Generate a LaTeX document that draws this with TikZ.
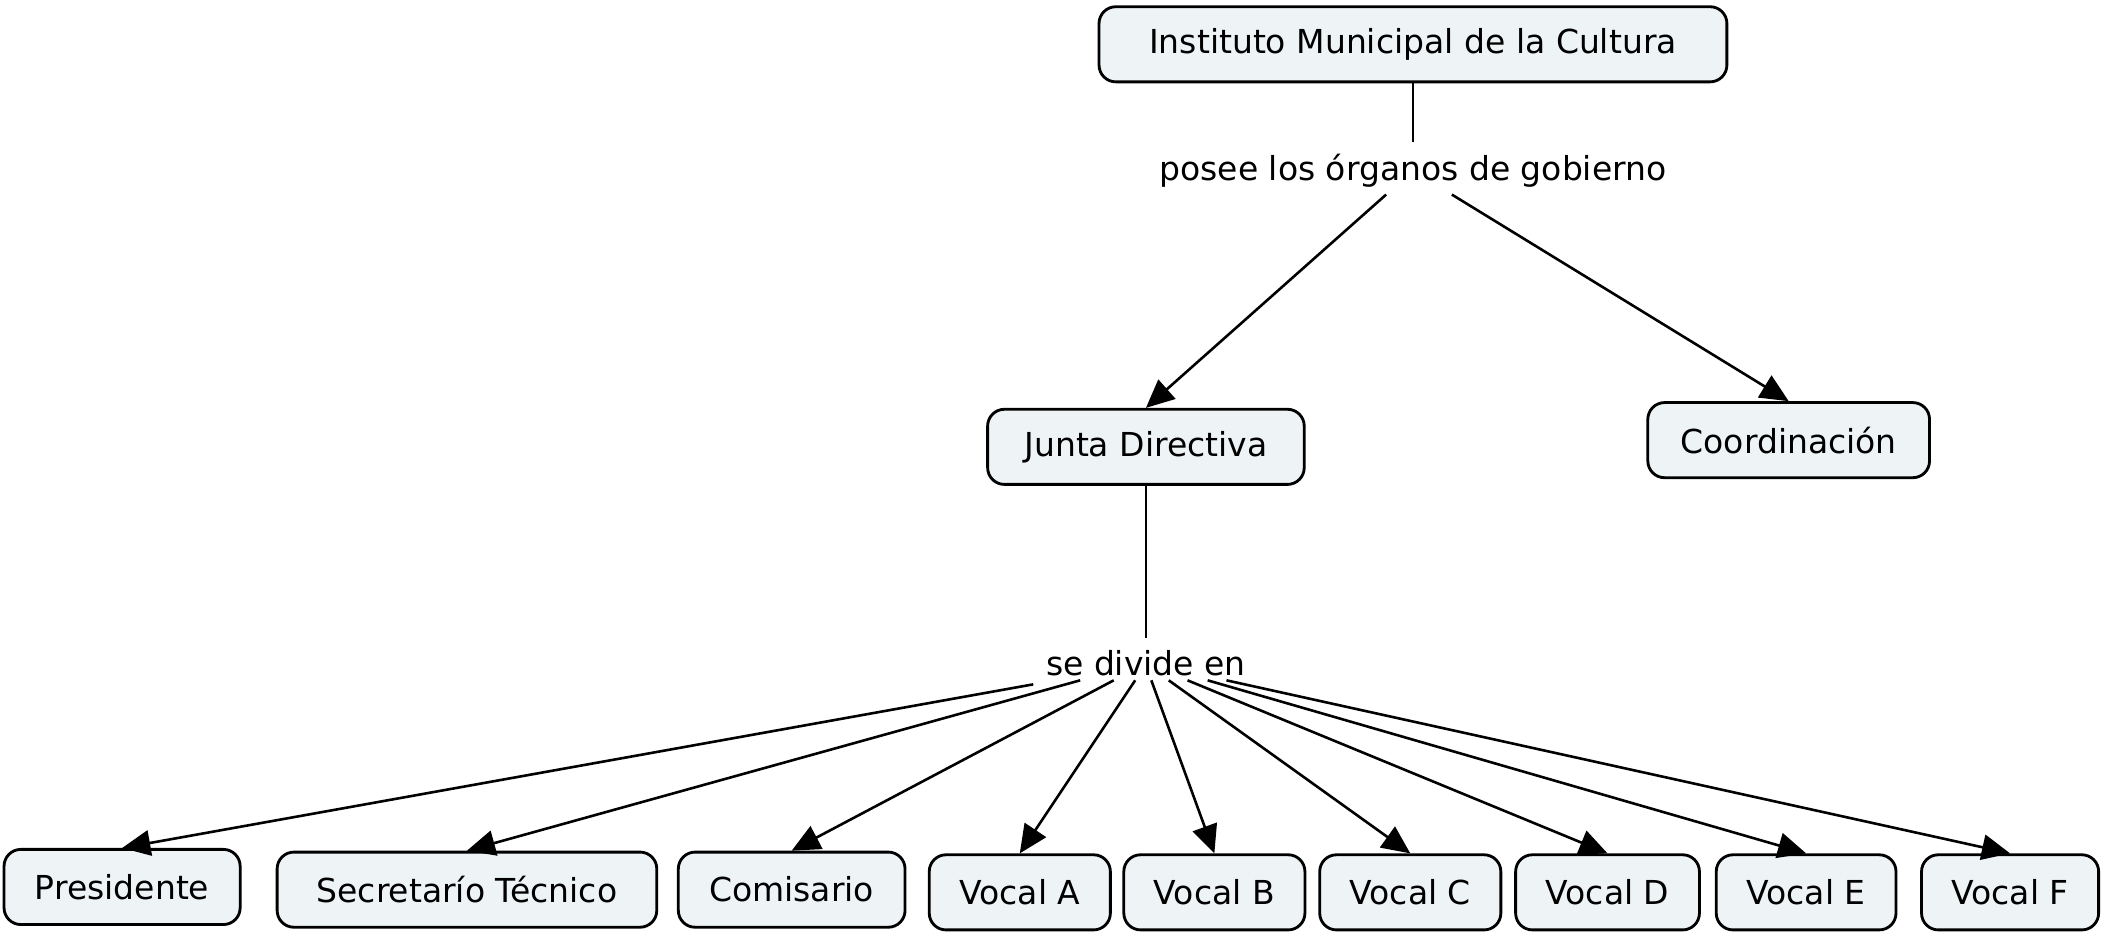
\documentclass[tikz,border=0pt]{standalone}
\usepackage{fontspec}
\setmainfont{DejaVu Sans}
\usetikzlibrary{arrows.meta}
\begin{document}
\begin{tikzpicture}[x=0.02cm,y=-0.02cm,
 box/.style={draw,line width=1.2pt,rounded corners=0.25cm,fill={rgb,255:red,238;green,244;blue,246},minimum height=1.12cm,inner xsep=4pt,font=\fontsize{14}{16}\selectfont},
 lab/.style={font=\fontsize{14}{16}\selectfont,inner sep=5pt},
 con/.style={line width=1.1pt},
 arr/.style={con,-{Triangle[length=0.42cm,width=0.38cm]}}]
\useasboundingbox (0,0) rectangle (1568,698);
\node[box,minimum width=9.36cm] (inst) at (1053,33) {Instituto Municipal de la Cultura};
\node[lab] (l1) at (1053,127) {posee los órganos de gobierno};
\node[box,minimum width=4.72cm] (junta) at (854,333) {Junta Directiva};
\node[box,minimum width=4.2cm] (coord) at (1333,328) {Coordinación};
\node[lab] (l2) at (854,494) {se divide en};
\node[box,minimum width=3.52cm] (pres) at (91,661) {Presidente};
\node[box,minimum width=5.66cm] (sec) at (348,663) {Secretarío Técnico};
\node[box,minimum width=3.38cm] (com) at (590,663) {Comisario};
\node[box,minimum width=2.7cm] (va) at (760,665) {Vocal A};
\node[box,minimum width=2.7cm] (vb) at (905,665) {Vocal B};
\node[box,minimum width=2.7cm] (vc) at (1051,665) {Vocal C};
\node[box,minimum width=2.74cm] (vd) at (1198,665) {Vocal D};
\node[box,minimum width=2.68cm] (ve) at (1346,665) {Vocal E};
\node[box,minimum width=2.64cm] (vf) at (1498,665) {Vocal F};
\draw[con] (inst) -- (l1);
\draw[arr] (1033,145) -- (junta.north);
\draw[arr] (1082,145) -- (coord.north);
\draw[con] (junta) -- (l2);
\draw[arr] (770,510) -- (pres.north);
\draw[arr] (805,507) -- (sec.north);
\draw[arr] (830,507) -- (com.north);
\draw[arr] (846,507) -- (va.north);
\draw[arr] (858,507) -- (vb.north);
\draw[arr] (871,507) -- (vc.north);
\draw[arr] (885,507) -- (vd.north);
\draw[arr] (900,507) -- (ve.north);
\draw[arr] (914,507) -- (vf.north);
\end{tikzpicture}
\end{document}
